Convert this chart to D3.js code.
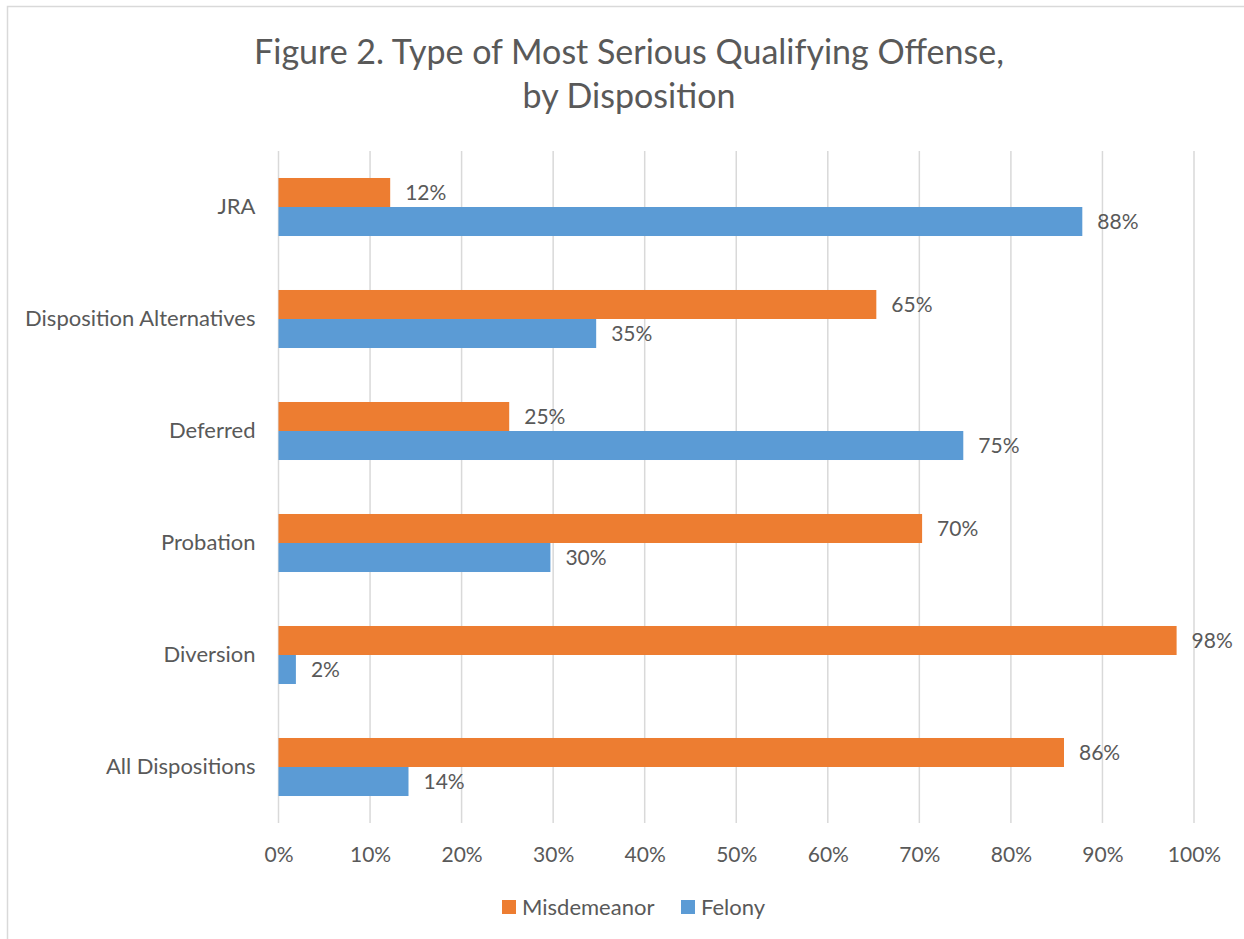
<!doctype html>
<html lang="en">
   <head>
      <meta charset="utf-8">
      <title>Figure 2. Type of Most Serious Qualifying Offense, by Disposition</title>
      <script src="https://d3js.org/d3.v7.min.js"></script>
      <style>
         body { margin: 0; background: #fff; }
         svg text { font-family: Lato, "Open Sans", sans-serif; fill: #595959; }
      </style>
   </head>
   <body>
      <svg id="chart" width="1244" height="939"></svg>
      <script>
      // categories, top to bottom
      var categories = ["JRA", "Disposition Alternatives", "Deferred", "Probation", "Diversion", "All Dispositions"];
      var seriesNames = ["Misdemeanor", "Felony"];
      var misdemeanor = [12.2, 65.3, 25.2, 70.3, 98.1, 85.8];
      var felony = [87.8, 34.7, 74.8, 29.7, 1.9, 14.2];
      var xTicks = [0, 10, 20, 30, 40, 50, 60, 70, 80, 90, 100];
      var colors = ["#ED7D31", "#5B9BD5"];

      var fontSize = "22px";
      var svg = d3.select("#chart");

      // chart frame
      svg.append("rect")
         .attr("x", 7.5).attr("y", 6.5)
         .attr("width", 1250).attr("height", 950)
         .attr("fill", "none")
         .attr("stroke", "#d9d9d9")
         .attr("stroke-width", 1.5);

      var title = svg.append("text")
         .attr("text-anchor", "middle")
         .style("font-size", "34px");
      title.append("tspan").attr("x", 629).attr("y", 64).text("Figure 2. Type of Most Serious Qualifying Offense,");
      title.append("tspan").attr("x", 629).attr("y", 108).text("by Disposition");

      var x = d3.scaleLinear().domain([0, 100]).range([278.5, 1194]);
      var y = d3.scaleBand().domain(categories).range([151, 823])
         .paddingInner(0.482).paddingOuter(0.241);
      var ySub = d3.scaleBand().domain(seriesNames).range([0, y.bandwidth()]);

      // gridlines
      svg.append("g")
         .selectAll("line")
         .data(xTicks)
         .enter().append("line")
         .attr("x1", function(d) { return x(d); })
         .attr("x2", function(d) { return x(d); })
         .attr("y1", 151)
         .attr("y2", 823)
         .attr("stroke", "#d9d9d9")
         .attr("stroke-width", 1.5);

      // x axis tick labels
      var xAxis = d3.axisBottom(x).tickValues(xTicks)
         .tickFormat(function(d) { return d + "%"; })
         .tickSize(0).tickPadding(0);
      var gx = svg.append("g").attr("transform", "translate(0,823)").call(xAxis);
      gx.select(".domain").remove();
      gx.selectAll("text")
         .attr("dy", "0.35em").attr("y", 32)
         .style("font-size", "21px")
         .style("font-family", "Lato, 'Open Sans', sans-serif")
         .attr("fill", "#595959");

      // y axis category labels
      var yAxis = d3.axisLeft(y).tickSize(0).tickPadding(23);
      var gy = svg.append("g").attr("transform", "translate(278.5,0)").call(yAxis);
      gy.select(".domain").remove();
      gy.selectAll("text")
         .style("font-size", fontSize)
         .style("font-family", "Lato, 'Open Sans', sans-serif")
         .attr("fill", "#595959");

      var seriesValues = [misdemeanor, felony];
      var rows = [];
      categories.forEach(function(c, i) {
         seriesNames.forEach(function(s, j) {
            rows.push({ cat: c, series: s, value: seriesValues[j][i], color: colors[j] });
         });
      });

      var bars = svg.append("g");
      bars.selectAll("rect")
         .data(rows)
         .enter().append("rect")
         .attr("x", x(0))
         .attr("y", function(d) { return y(d.cat) + ySub(d.series); })
         .attr("width", function(d) { return x(d.value) - x(0); })
         .attr("height", ySub.bandwidth())
         .attr("fill", function(d) { return d.color; });

      bars.selectAll("text")
         .data(rows)
         .enter().append("text")
         .attr("x", function(d) { return x(d.value) + 15; })
         .attr("y", function(d) { return y(d.cat) + ySub(d.series) + ySub.bandwidth() / 2; })
         .attr("dy", "0.35em")
         .style("font-size", "21px")
         .text(function(d) { return Math.round(d.value) + "%"; });

      // legend
      var legendX = [502, 681];
      var legend = svg.append("g");
      seriesNames.forEach(function(s, j) {
         legend.append("rect")
            .attr("x", legendX[j]).attr("y", 900)
            .attr("width", 14).attr("height", 14)
            .attr("fill", colors[j]);
         legend.append("text")
            .attr("x", legendX[j] + 20).attr("y", 907)
            .attr("dy", "0.35em")
            .style("font-size", fontSize)
            .text(s);
      });
      </script>
   </body>
</html>
